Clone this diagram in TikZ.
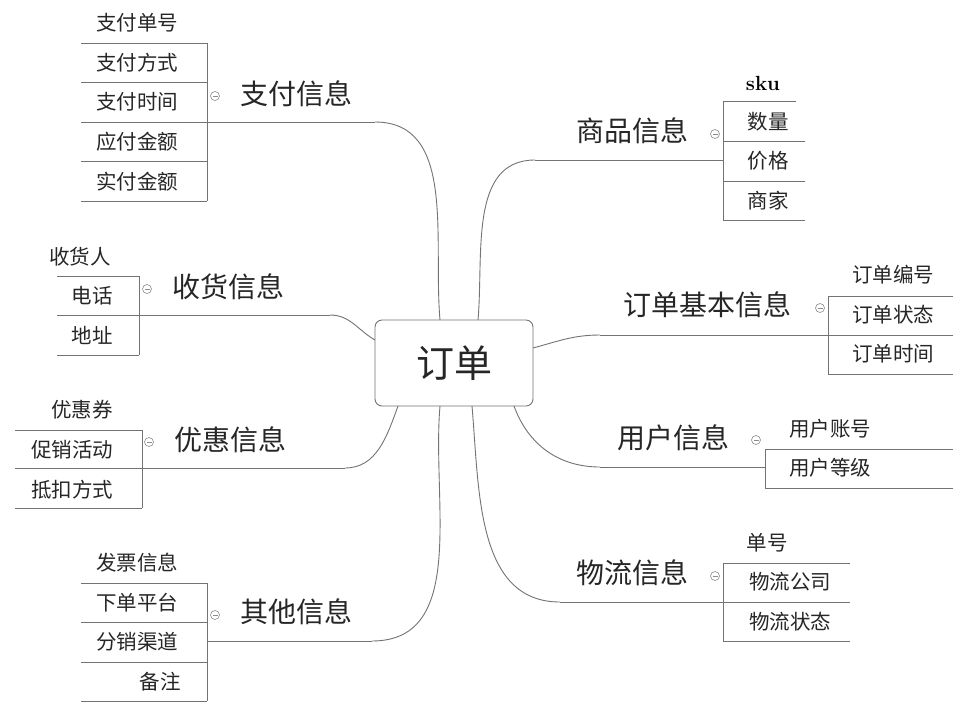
\documentclass[tikz,border=0pt]{standalone}
\usepackage{fontspec}
\newfontfamily\cjk{Noto Sans CJK SC}
\begin{document}
\begin{tikzpicture}[x=1pt,y=-1pt,
  ln/.style={draw=black!55,line width=0.9pt},
  item/.style={font=\cjk\fontsize{20.5}{22}\selectfont,text=black!85,inner sep=0},
  br/.style={font=\cjk\fontsize{28}{30}\selectfont,text=black!85,inner sep=0},
  tog/.style={circle,draw=black!45,line width=0.6pt,minimum size=9pt,inner sep=0,
    path picture={\draw[black!45,line width=0.6pt] ([xshift=-2.5pt]path picture bounding box.center)--([xshift=2.5pt]path picture bounding box.center);}}]
\useasboundingbox (0,0) rectangle (980,716);
\fill[white] (0,0) rectangle (980,716);
% center
\node[draw=black!55,line width=0.9pt,rounded corners=7pt,minimum width=158pt,minimum height=86pt,
  font=\cjk\fontsize{38}{40}\selectfont,text=black!85] (c) at (454,363) {订单};
% ---------- 支付信息
\node[br] (pay) at (296,94) {支付信息};
\node[tog] (payt) at (215,96) {};
\coordinate (payE) at (375,122);
\draw[ln] (207,122) -- (payE);
\draw[ln] (payE) to[out=0,in=95] (440,320);
\draw[ln] (207,43) -- (207,201);
\foreach \y in {43,82,122,161,201} \draw[ln] (81,\y) -- (207,\y);
\node[item] (p1) at (137,23) {支付单号};
\node[item] (p2) at (137,63) {支付方式};
\node[item] (p3) at (137,102) {支付时间};
\node[item] (p4) at (137,142) {应付金额};
\node[item] (p5) at (137,182) {实付金额};
% ---------- 收货信息
\node[br] (rcv) at (228,287) {收货信息};
\node[tog] (rcvt) at (147,289) {};
\coordinate (rcvE) at (330,315);
\draw[ln] (139,315) -- (rcvE);
\draw[ln] (rcvE) to[out=0,in=150] (375,340);
\draw[ln] (139,276) -- (139,355);
\foreach \y in {276,315,355} \draw[ln] (57,\y) -- (139,\y);
\node[item] (r1) at (80,257) {收货人};
\node[item] (r2) at (92,296) {电话};
\node[item] (r3) at (92,335) {地址};
% ---------- 优惠信息
\node[br] (dis) at (230,440) {优惠信息};
\node[tog] (dist) at (149,442) {};
\coordinate (disE) at (345,468);
\draw[ln] (142,468) -- (disE);
\draw[ln] (disE) to[out=0,in=-110] (398,406);
\draw[ln] (142,430) -- (142,508);
\foreach \y in {430,468,508} \draw[ln] (15,\y) -- (142,\y);
\node[item] (d1) at (82,410) {优惠券};
\node[item] (d2) at (72,450) {促销活动};
\node[item] (d3) at (72,490) {抵扣方式};
% ---------- 其他信息
\node[br] (oth) at (296,612) {其他信息};
\node[tog] (otht) at (215,615) {};
\coordinate (othE) at (372,641);
\draw[ln] (207,641) -- (othE);
\draw[ln] (othE) to[out=0,in=-95] (440,406);
\draw[ln] (207,583) -- (207,701);
\foreach \y in {583,622,662,701} \draw[ln] (81,\y) -- (207,\y);
\node[item] (o1) at (137,563) {发票信息};
\node[item] (o2) at (137,603) {下单平台};
\node[item] (o3) at (137,642) {分销渠道};
\node[item] (o4) at (160,682) {备注};
% ---------- 商品信息
\node[br] (gd) at (632,131) {商品信息};
\node[tog] (gdt) at (715,134) {};
\coordinate (gdE) at (535,160);
\draw[ln] (gdE) -- (723,160);
\draw[ln] (478,320) to[out=85,in=180] (gdE);
\draw[ln] (723,101) -- (723,220);
\draw[ln] (723,101) -- (796,101);
\foreach \y in {141,181,220} \draw[ln] (723,\y) -- (805,\y);
\node[font=\bfseries\fontsize{20.5}{22}\selectfont,inner sep=0] (g1) at (763,83) {sku};
\node[item] (g2) at (768,122) {数量};
\node[item] (g3) at (768,161) {价格};
\node[item] (g4) at (768,201) {商家};
% ---------- 订单基本信息
\node[br] (bas) at (707,305) {订单基本信息};
\node[tog] (bast) at (820,308) {};
\coordinate (basE) at (600,335);
\draw[ln] (basE) -- (828,335);
\draw[ln] (533,348) to[out=15,in=180] (basE);
\draw[ln] (828,296) -- (828,374);
\foreach \y in {296,335,374} \draw[ln] (828,\y) -- (953,\y);
\node[item] (b1) at (893,275) {订单编号};
\node[item] (b2) at (893,315) {订单状态};
\node[item] (b3) at (893,354) {订单时间};
% ---------- 用户信息
\node[br] (usr) at (673,438) {用户信息};
\node[tog] (usrt) at (756,440) {};
\coordinate (usrE) at (600,467);
\draw[ln] (usrE) -- (765,467);
\draw[ln] (514,406) to[out=-70,in=180] (usrE);
\draw[ln] (765,449) -- (765,488);
\foreach \y in {449,488} \draw[ln] (765,\y) -- (953,\y);
\node[item] (u1) at (830,429) {用户账号};
\node[item] (u2) at (830,468) {用户等级};
% ---------- 物流信息
\node[br] (lg) at (632,573) {物流信息};
\node[tog] (lgt) at (715,576) {};
\coordinate (lgE) at (560,602);
\draw[ln] (lgE) -- (723,602);
\draw[ln] (472,406) to[out=-85,in=180] (lgE);
\draw[ln] (723,563) -- (723,641);
\foreach \y in {563,602,641} \draw[ln] (723,\y) -- (850,\y);
\node[item] (l1) at (767,543) {单号};
\node[item] (l2) at (790,582) {物流公司};
\node[item] (l3) at (790,622) {物流状态};
\end{tikzpicture}
\end{document}
